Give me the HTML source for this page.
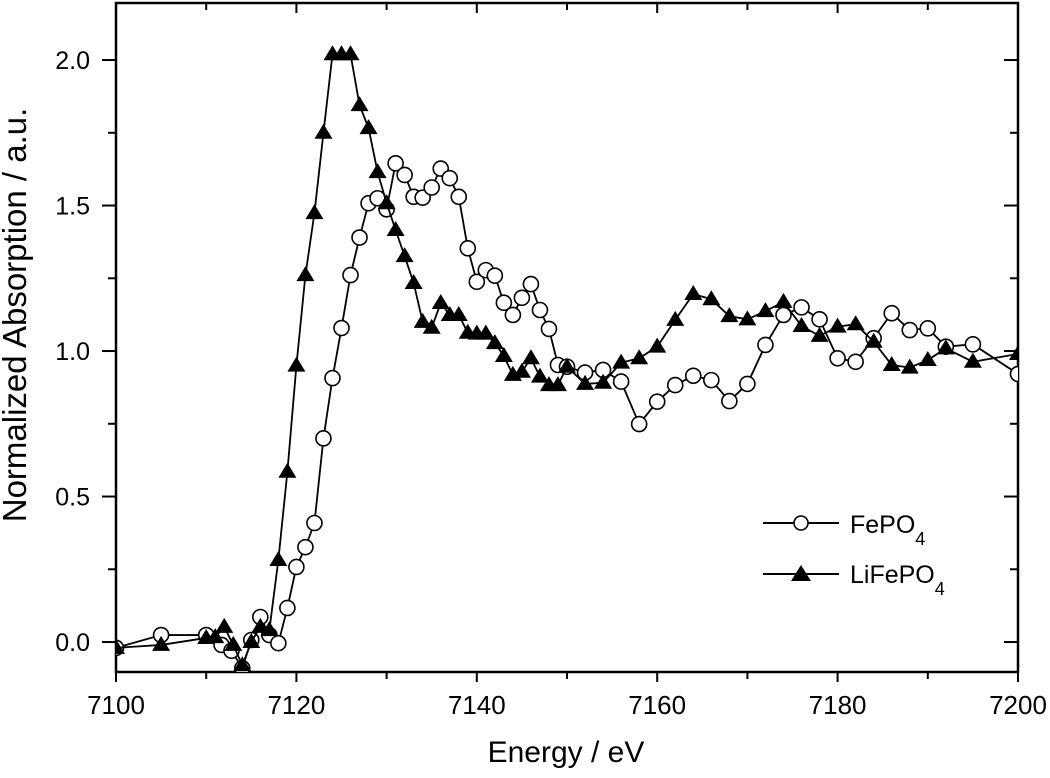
<!DOCTYPE html>
<html><head><meta charset="utf-8"><style>
html,body{margin:0;padding:0;background:#fff;}
svg{display:block;font-family:"Liberation Sans",Arial,sans-serif;}
</style></head><body>
<svg id="chart" width="1050" height="778" viewBox="0 0 1050 778" xmlns="http://www.w3.org/2000/svg">
<g id="axes"></g>
<g id="series"></g>
<g id="legend">
  <line x1="763" y1="523" x2="839" y2="523" stroke="#000" stroke-width="2"/>
  <circle cx="801" cy="523" r="7" fill="#fff" stroke="#000" stroke-width="1.6"/>
  <text x="850" y="533" font-size="25">FePO<tspan font-size="18" dy="12">4</tspan></text>
  <line x1="763" y1="574" x2="839" y2="574" stroke="#000" stroke-width="2"/>
  <polygon points="801,565 811,581 791,581" fill="#000"/>
  <text x="850" y="583" font-size="25">LiFePO<tspan font-size="18" dy="12">4</tspan></text>
</g>
<text x="566" y="762" font-size="30" text-anchor="middle">Energy / eV</text>
<text transform="translate(26,315) rotate(-90)" font-size="33" text-anchor="middle">Normalized Absorption / a.u.</text>
</svg>
<script>
const xTicks = [7100, 7120, 7140, 7160, 7180, 7200];
const yTicks = [0.0, 0.5, 1.0, 1.5, 2.0];
const feE = [7100,7105,7110,7111.7,7112.8,7114,7115,7116,7117,7118,7119,7120,7121,7122,7123,7124,7125,7126,7127,7128,7129,7130,7131,7132,7133,7134,7135,7136,7137,7138,7139,7140,7141,7142,7143,7144,7145,7146,7147,7148,7149,7150,7152,7154,7156,7158,7160,7162,7164,7166,7168,7170,7172,7174,7176,7178,7180,7182,7184,7186,7188,7190,7192,7195,7200];
const feV = [-0.02,0.024,0.024,-0.01,-0.03,-0.09,0.007,0.086,0.024,-0.004,0.117,0.258,0.326,0.409,0.70,0.907,1.079,1.261,1.39,1.508,1.525,1.487,1.645,1.605,1.53,1.527,1.562,1.627,1.594,1.53,1.353,1.238,1.278,1.259,1.166,1.124,1.183,1.23,1.141,1.076,0.952,0.946,0.926,0.935,0.895,0.749,0.826,0.883,0.915,0.90,0.828,0.887,1.021,1.124,1.15,1.109,0.975,0.963,1.044,1.13,1.072,1.078,1.015,1.023,0.921];
const liE = [7100,7105,7110,7111,7112,7113,7114,7115,7116,7117,7118,7119,7120,7121,7122,7123,7124,7125,7126,7127,7128,7129,7130,7131,7132,7133,7134,7135,7136,7137,7138,7139,7140,7141,7142,7143,7144,7145,7146,7147,7148,7149,7150,7152,7154,7156,7158,7160,7162,7164,7166,7168,7170,7172,7174,7176,7178,7180,7182,7184,7186,7188,7190,7192,7195,7200];
const liV = [-0.02,-0.01,0.014,0.017,0.052,-0.01,-0.08,0.0,0.052,0.041,0.282,0.585,0.95,1.261,1.474,1.75,2.02,2.02,2.02,1.845,1.766,1.615,1.508,1.416,1.326,1.234,1.10,1.08,1.165,1.124,1.124,1.063,1.06,1.06,1.027,0.983,0.918,0.929,0.975,0.912,0.883,0.883,0.946,0.887,0.891,0.96,0.975,1.015,1.107,1.196,1.178,1.12,1.109,1.137,1.169,1.086,1.052,1.084,1.092,1.032,0.952,0.943,0.969,1.009,0.963,0.99];

const L=116, R=1018, T=3, B=672;
const xMin=7100, xMax=7200, yMin=-0.103, yMax=2.196;
function sx(e){return L+(e-xMin)/(xMax-xMin)*(R-L);}
function sy(v){return B-(v-yMin)/(yMax-yMin)*(B-T);}
const NS="http://www.w3.org/2000/svg";
function mk(tag,attrs,parent){const el=document.createElementNS(NS,tag);for(const k in attrs)el.setAttribute(k,attrs[k]);parent.appendChild(el);return el;}
const axes=document.getElementById('axes');
const frame=mk('rect',{x:L,y:T,width:R-L,height:B-T,fill:'none',stroke:'#000','stroke-width':2.5},axes);


for(let e=7100;e<=7200;e+=10){
  const major=(e%20===0);const x=sx(e);const len=major?10:7;
  const t1=mk('line',{x1:x,y1:B,x2:x,y2:B+len,stroke:'#000','stroke-width':2},axes);
  
  
  const t2=mk('line',{x1:x,y1:T,x2:x,y2:T+len,stroke:'#000','stroke-width':2},axes);
  
  
}
xTicks.forEach(e=>{
  const t=mk('text',{x:sx(e),y:B+42,'font-size':26,'text-anchor':'middle'},axes);t.textContent=e;
  
  
});
for(let v=0;v<=2.01;v+=0.25){
  const major=Math.abs(v*2-Math.round(v*2))<1e-6;const y=sy(v);const len=major?14:8;
  const t1=mk('line',{x1:L-len,y1:y,x2:L,y2:y,stroke:'#000','stroke-width':2},axes);
  
  
  const t2=mk('line',{x1:R-len,y1:y,x2:R,y2:y,stroke:'#000','stroke-width':2},axes);
  
  
}
yTicks.forEach(v=>{
  const t=mk('text',{x:90,y:sy(v)+9,'font-size':25,'text-anchor':'end'},axes);t.textContent=v.toFixed(1);
  
  
});
const ser=document.getElementById('series');
const clip=mk('clipPath',{id:'pc'},ser);mk('rect',{x:L,y:T,width:R-L,height:B-T},clip);
function drawSeries(E,V,name,circ){
  const g=mk('g',{'clip-path':'url(#pc)'},ser);
  
  
  const pl=mk('polyline',{points:E.map((e,i)=>sx(e)+','+sy(V[i])).join(' '),fill:'none',stroke:'#000','stroke-width':1.8},g);
  
  
  E.forEach((e,i)=>{
    const x=sx(e),y=sy(V[i]);let m;
    if(circ){m=mk('circle',{cx:x,cy:y,r:7.5,fill:'#fff',stroke:'#000','stroke-width':1.6},g);}
    else{m=mk('polygon',{points:`${x},${y-9} ${x+9},${y+6} ${x-9},${y+6}`,fill:'#000'},g);}
    
    
  });
}
drawSeries(feE,feV,'fepo4',true);
drawSeries(liE,liV,'lifepo4',false);
</script>
</body></html>
